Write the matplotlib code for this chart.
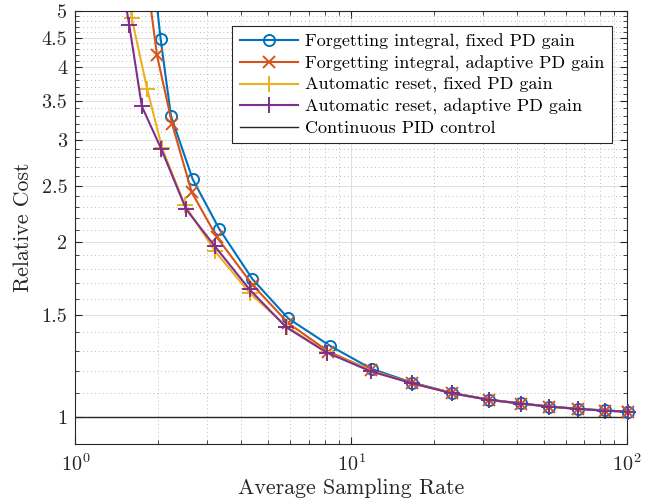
import numpy as np
import matplotlib
matplotlib.use("Agg")
import matplotlib.pyplot as plt
from matplotlib.ticker import FixedLocator, NullFormatter, LogLocator

plt.rcParams['font.family'] = 'serif'
plt.rcParams['font.serif'] = ['cmr10']
plt.rcParams['mathtext.fontset'] = 'cm'
plt.rcParams['axes.formatter.use_mathtext'] = True

# data (average sampling rate vs relative cost)
fi_fixed_x = [1.894, 2.037, 2.22, 2.66, 3.32, 4.38, 5.91, 8.37, 11.86, 16.6, 23.2, 31.6, 41.3, 52.1, 66.4, 83.2, 100.8]
fi_fixed_y = [6.11, 4.47, 3.30, 2.57, 2.11, 1.73, 1.48, 1.328, 1.212, 1.148, 1.102, 1.073, 1.057, 1.044, 1.035, 1.028, 1.023]

fi_adapt_x = [1.80, 1.975, 2.24, 2.64, 3.26, 4.40, 5.91, 8.26, 11.8, 16.6, 23.2, 31.6, 41.3, 52.1, 66.4, 83.2, 100.8]
fi_adapt_y = [5.88, 4.20, 3.20, 2.44, 2.04, 1.687, 1.453, 1.298, 1.205, 1.146, 1.101, 1.072, 1.056, 1.044, 1.034, 1.027, 1.023]

ar_fixed_x = [1.525, 1.60, 1.82, 2.06, 2.49, 3.21, 4.29, 5.83, 8.17, 11.8, 16.6, 23.2, 31.6, 41.3, 52.1, 66.4, 83.2, 100.8]
ar_fixed_y = [5.88, 4.86, 3.67, 2.91, 2.32, 1.93, 1.636, 1.433, 1.294, 1.203, 1.145, 1.101, 1.072, 1.056, 1.044, 1.034, 1.027, 1.023]

ar_adapt_x = [1.45, 1.567, 1.74, 2.05, 2.52, 3.20, 4.28, 5.80, 8.15, 11.77, 16.6, 23.2, 31.6, 41.3, 52.1, 66.4, 83.2, 100.8]
ar_adapt_y = [5.88, 4.73, 3.43, 2.89, 2.28, 1.97, 1.66, 1.43, 1.293, 1.200, 1.145, 1.100, 1.072, 1.056, 1.044, 1.034, 1.027, 1.023]

pid_x = [1, 100]
pid_y = [1, 1]

labels = ['Forgetting integral, fixed PD gain',
          'Forgetting integral, adaptive PD gain',
          'Automatic reset, fixed PD gain',
          'Automatic reset, adaptive PD gain',
          'Continuous PID control']

y_major = [1, 1.5, 2, 2.5, 3, 3.5, 4, 4.5, 5]
y_major_labels = ['1', '1.5', '2', '2.5', '3', '3.5', '4', '4.5', '5']

fig = plt.figure(figsize=(6.54, 5.03), dpi=100)
ax = fig.add_axes([0.1154, 0.1173, 0.8433, 0.8607])

series = [
    (fi_fixed_x, fi_fixed_y, '#0072BD', dict(marker='o', markerfacecolor='none', markersize=8, markeredgewidth=1.4)),
    (fi_adapt_x, fi_adapt_y, '#D95319', dict(marker='x', markersize=8, markeredgewidth=1.4)),
    (ar_fixed_x, ar_fixed_y, '#EDB120', dict(marker='+', markersize=11, markeredgewidth=1.4)),
    (ar_adapt_x, ar_adapt_y, '#7E2F8E', dict(marker='+', markersize=11, markeredgewidth=1.4)),
]
for (x, y, c, mk), lab in zip(series, labels):
    ax.plot(x, y, color=c, lw=1.5, label=lab, **mk)
    # last marker sits on the right border, keep it whole
    ax.plot(x[-1:], y[-1:], color=c, lw=0, clip_on=False, zorder=5, **mk)

ax.plot(pid_x, pid_y, color='#262626', lw=1.0, label=labels[4])

ax.set_xscale('log')
ax.set_yscale('log')
ax.set_xlim(1, 100)
ax.set_ylim(0.9, 5)

ax.xaxis.set_major_locator(LogLocator(base=10))
ax.xaxis.set_minor_locator(LogLocator(base=10, subs=np.arange(2, 10)))
ax.xaxis.set_minor_formatter(NullFormatter())

ax.yaxis.set_major_locator(FixedLocator(y_major))
ax.set_yticklabels(y_major_labels)
y_minor = [v / 10 for v in range(11, 50) if v % 5 != 0]
ax.yaxis.set_minor_locator(FixedLocator(y_minor))
ax.yaxis.set_minor_formatter(NullFormatter())

ax.grid(True, which='major', color='#dedede', lw=0.7, ls='-')
ax.grid(True, which='minor', color='#bdbdbd', lw=0.7, ls=(0, (1, 3)))
ax.set_axisbelow(True)

ax.tick_params(which='both', direction='in', top=True, right=True, labelsize=14.5, colors='#262626')
ax.tick_params(which='major', length=5, width=0.8)
ax.tick_params(which='minor', length=3, width=0.6)
ax.tick_params(axis='x', pad=7)
ax.tick_params(axis='y', pad=6)
for s in ax.spines.values():
    s.set_color('#262626')
    s.set_linewidth(0.8)

ax.set_xlabel('Average Sampling Rate', fontsize=15.75, color='#262626', labelpad=2)
ax.set_ylabel('Relative Cost', fontsize=15.75, color='#262626', labelpad=6)

leg = ax.legend(loc='upper right', fontsize=13, numpoints=1, handlelength=3.25,
                fancybox=False, framealpha=1, edgecolor='#262626',
                borderaxespad=0.85, labelspacing=0.3, handletextpad=0.37)
leg.get_frame().set_linewidth(0.8)

fig.savefig('out.png', dpi=100)
